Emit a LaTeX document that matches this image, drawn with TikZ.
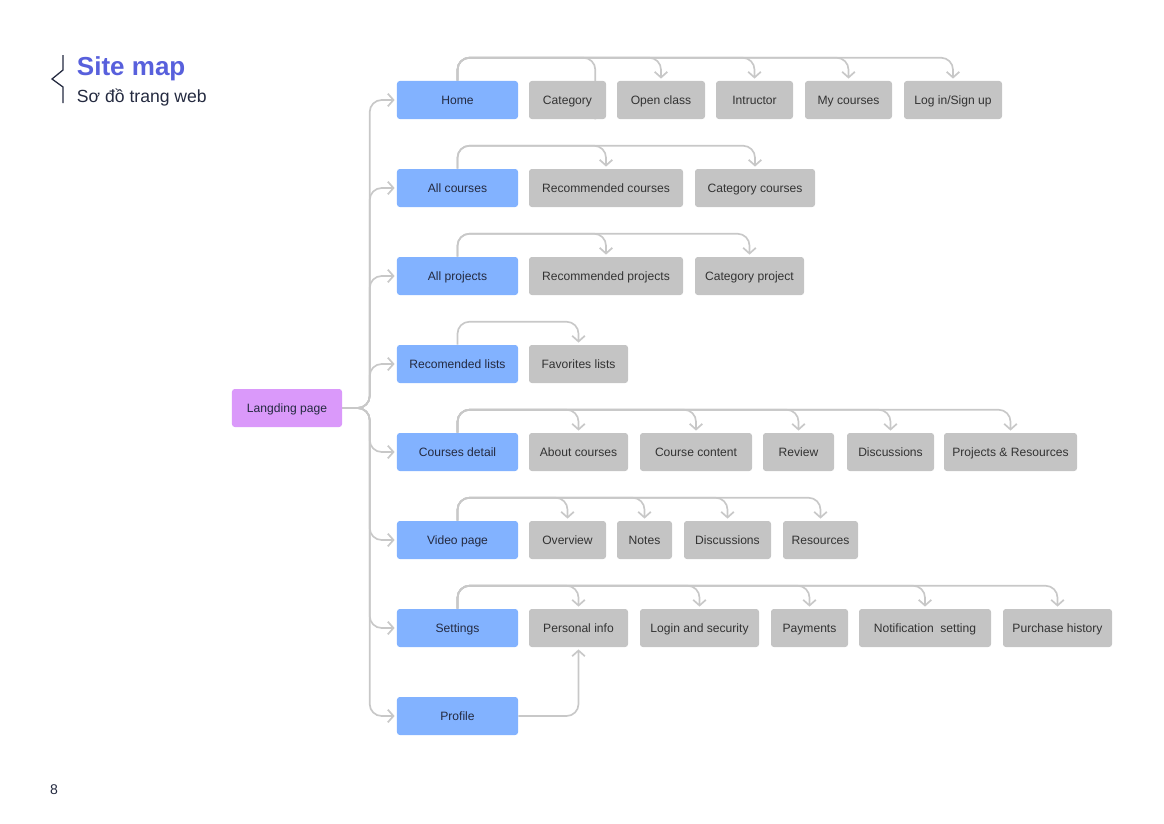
\documentclass[tikz,border=0pt]{standalone}
\usepackage{fontspec}
\setmainfont{Liberation Sans}
\usetikzlibrary{arrows.meta,backgrounds}

\definecolor{pageblue}{RGB}{130,178,255}
\definecolor{subgray}{RGB}{196,196,196}
\definecolor{landpurple}{RGB}{218,153,250}
\definecolor{linegray}{RGB}{200,200,200}
\definecolor{titleblue}{RGB}{88,96,220}
\definecolor{inkdark}{RGB}{36,42,64}

\tikzset{
  box/.style={rounded corners=2pt, minimum height=0.95cm, inner sep=0pt,
    text height=1.6ex, text depth=0.4ex,
    font=\fontsize{8.6}{10}\selectfont, text=inkdark},
  pagebox/.style={box, fill=pageblue, minimum width=3.025cm},
  subbox/.style={box, fill=subgray, text=black!80},
  landbox/.style={box, fill=landpurple, minimum width=2.75cm},
  wd/.style={minimum width=#1*0.025cm},
  conn/.style={draw=linegray, line width=1.2pt, rounded corners=8.5pt,
    -{Straight Barb[length=4pt,width=9pt]}, shorten >=1.5pt},
}

\begin{document}
\begin{tikzpicture}[x=0.025cm, y=-0.025cm]

    % Page frame (pixel grid of the reference)
    \useasboundingbox (0,0) rectangle (1164,823);

    % Title block
    \draw[inkdark, line width=0.9pt] (63,55) -- (63,70) -- (52,79) -- (63,87) -- (63,103);
    \node[anchor=west, font=\bfseries\fontsize{18.5}{21}\selectfont, text=titleblue] (title) at (72,68.5) {Site map};
    \node[anchor=west, font=\fontsize{12.5}{15}\selectfont, text=inkdark] (subtitle) at (72,98) {Sơ đồ trang web};

    % Root
    \node[landbox] (land) at (287,408) {Langding page};

    % Main pages
    \node[pagebox] (home)  at (457.5,100) {Home};
    \node[pagebox] (allc)  at (457.5,188) {All courses};
    \node[pagebox] (allp)  at (457.5,276) {All projects};
    \node[pagebox] (rlist) at (457.5,364) {Recomended lists};
    \node[pagebox] (cdet)  at (457.5,452) {Courses detail};
    \node[pagebox] (video) at (457.5,540) {Video page};
    \node[pagebox] (sett)  at (457.5,628) {Settings};
    \node[pagebox] (prof)  at (457.5,716) {Profile};

    % Home row
    \node[subbox, wd=77]  (cat)    at (567.5,100) {Category};
    \node[subbox, wd=88]  (open)   at (661,100)   {Open class};
    \node[subbox, wd=77]  (instr)  at (754.5,100) {Intructor};
    \node[subbox, wd=87]  (mycrs)  at (848.5,100) {My courses};
    \node[subbox, wd=98]  (login)  at (953,100)   {Log in/Sign up};

    % All courses row
    \node[subbox, wd=154] (reccrs) at (606,188)   {Recommended courses};
    \node[subbox, wd=120] (catcrs) at (755,188)   {Category courses};

    % All projects row
    \node[subbox, wd=154] (recprj) at (606,276)   {Recommended projects};
    \node[subbox, wd=109] (catprj) at (749.5,276) {Category project};

    % Recomended lists row
    \node[subbox, wd=99]  (fav)    at (578.5,364) {Favorites lists};

    % Courses detail row
    \node[subbox, wd=99]  (about)  at (578.5,452) {About courses};
    \node[subbox, wd=112] (ccont)  at (696,452)   {Course content};
    \node[subbox, wd=71]  (review) at (798.5,452) {Review};
    \node[subbox, wd=87]  (cdisc)  at (890.5,452) {Discussions};
    \node[subbox, wd=133] (prjres) at (1010.5,452) {Projects \& Resources};

    % Video page row
    \node[subbox, wd=77]  (over)   at (567.5,540) {Overview};
    \node[subbox, wd=55]  (notes)  at (644.5,540) {Notes};
    \node[subbox, wd=87]  (vdisc)  at (727.5,540) {Discussions};
    \node[subbox, wd=75]  (vres)   at (820.5,540) {Resources};

    % Settings row
    \node[subbox, wd=99]  (pinfo)  at (578.5,628) {Personal info};
    \node[subbox, wd=119] (lsec)   at (699.5,628) {Login and security};
    \node[subbox, wd=77]  (pay)    at (809.5,628) {Payments};
    \node[subbox, wd=132] (notif)  at (925,628)   {Notification\ \ setting};
    \node[subbox, wd=109] (purch)  at (1057.5,628) {Purchase history};

    % Page number
    \node[font=\fontsize{10}{12}\selectfont, text=inkdark] (pnum) at (54,790) {8};

    \begin{pgfonlayer}{background}
        % Root to every main page
        \foreach \p in {home,allc,allp,rlist,cdet,video,sett,prof}
            \draw[conn] (land.east) -| ([xshift=-0.675cm]\p.west) -- (\p.west);

        % Home row (the Category line runs behind its box)
        \draw[conn, -, shorten >=0pt] (home.north) -- ++(0,-23) -| ([xshift=-0.275cm]cat.south east);
        \foreach \c in {open,instr,mycrs,login}
            \draw[conn] (home.north) -- ++(0,-23) -| (\c.north);

        % All courses row
        \foreach \c in {reccrs,catcrs}
            \draw[conn] (allc.north) -- ++(0,-23) -| (\c.north);

        % All projects row
        \foreach \c in {recprj,catprj}
            \draw[conn] (allp.north) -- ++(0,-23) -| (\c.north);

        % Recomended lists row
        \draw[conn] (rlist.north) -- ++(0,-23) -| (fav.north);

        % Courses detail row
        \foreach \c in {about,ccont,review,cdisc,prjres}
            \draw[conn] (cdet.north) -- ++(0,-23) -| (\c.north);

        % Video page row
        \foreach \c in {over,notes,vdisc,vres}
            \draw[conn] (video.north) -- ++(0,-23) -| (\c.north);

        % Settings row
        \foreach \c in {pinfo,lsec,pay,notif,purch}
            \draw[conn] (sett.north) -- ++(0,-23) -| (\c.north);

        % Profile to Personal info
        \draw[conn] (prof.east) -| (pinfo.south);
    \end{pgfonlayer}

\end{tikzpicture}
\end{document}
